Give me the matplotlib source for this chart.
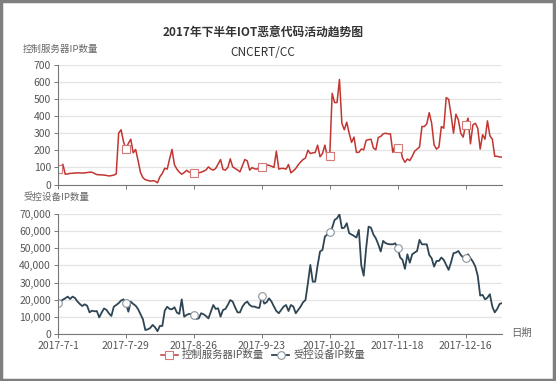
import numpy as np
import pandas as pd
import matplotlib
matplotlib.use('Agg')
import matplotlib.pyplot as plt
from matplotlib.ticker import StrMethodFormatter
from matplotlib.patches import Rectangle

plt.rcParams['font.family'] = ['Noto Sans CJK SC', 'DejaVu Sans']

## daily values, 2017-7-1 .. 2017-12-31
title = '2017年下半年IOT恶意代码活动趋势图'
subtitle = 'CNCERT/CC'
name_cc = '控制服务器IP数量'
name_bot = '受控设备IP数量'
start_day = '2017-07-01'

cc_ip = [90, 95, 118, 60, 62, 65, 66, 67, 68, 68, 67, 68, 70, 72,
         72, 65, 58, 57, 56, 55, 53, 50, 52, 55, 62, 300, 320, 250,
         210, 240, 265, 185, 205, 140, 70, 40, 28, 24, 20, 22, 20, 10,
         45, 65, 95, 90, 150, 205, 115, 90, 72, 60, 70, 83, 72, 75,
         70, 68, 68, 72, 78, 85, 103, 90, 84, 94, 120, 146, 88, 84,
         100, 150, 103, 94, 85, 74, 110, 146, 138, 84, 99, 92, 90, 100,
         103, 110, 115, 112, 107, 100, 195, 90, 94, 94, 90, 117, 68, 80,
         94, 115, 132, 146, 155, 200, 181, 185, 187, 230, 162, 181, 230, 162,
         168, 533, 479, 479, 614, 358, 320, 364, 300, 246, 277, 188, 188, 207,
         203, 258, 262, 265, 213, 203, 275, 281, 296, 300, 296, 296, 188, 232,
         213, 219, 155, 130, 149, 140, 165, 195, 207, 219, 339, 339, 355, 420,
         358, 232, 207, 219, 339, 329, 508, 498, 407, 300, 411, 378, 300, 277,
         349, 388, 238, 349, 358, 329, 207, 291, 265, 372, 285, 265, 165, 165,
         161, 160]

bot_ip = [17900, 19000, 20000, 20800, 21800, 20400, 21800, 21000, 19000, 17500, 16300, 17300, 16500, 12600,
          13600, 13200, 13400, 9700, 12500, 14900, 14000, 12000, 10500, 15900, 16900, 18000, 19500, 20200,
          17900, 13000, 18900, 17500, 16500, 14500, 11500, 8600, 2300, 2700, 3500, 5300, 3900, 1600,
          4700, 4700, 13600, 15900, 14600, 14400, 15600, 12500, 11700, 20200, 10100, 11100, 11700, 11500,
          11100, 8800, 9100, 12100, 11500, 10500, 9100, 13000, 16900, 14600, 15000, 10100, 14000, 14600,
          17000, 19800, 18900, 15500, 12600, 12600, 15900, 17900, 18900, 16900, 16000, 16000, 15400, 15200,
          22100, 17700, 18500, 20800, 18900, 16000, 13400, 12100, 14000, 16000, 16900, 13400, 16900, 16000,
          12100, 14000, 16000, 18500, 19800, 29600, 40300, 30500, 30500, 40000, 48100, 49000, 56800, 58000,
          59300, 62000, 66500, 67500, 69800, 61700, 62000, 64600, 58800, 58000, 57200, 56200, 60700, 40000,
          34000, 50000, 62600, 62000, 58000, 55800, 52300, 48100, 54300, 53000, 52500, 52300, 52300, 52900,
          50000, 44700, 43200, 38000, 46500, 41600, 46500, 47500, 48400, 54900, 52300, 52300, 52300, 46100,
          44200, 39300, 42600, 42600, 44600, 43200, 40300, 37400, 41800, 47100, 47500, 48400, 46100, 44600,
          44600, 46500, 44200, 42200, 39300, 34000, 22400, 22800, 20200, 21200, 23200, 16000, 12600, 14600,
          17500, 18000]

tick_labels = ['2017-7-1', '2017-7-29', '2017-8-26', '2017-9-23',
               '2017-10-21', '2017-11-18', '2017-12-16']

dates = pd.date_range(start_day, periods=len(cc_ip), freq='D')
tick_pos = pd.to_datetime(tick_labels)

red = '#c23531'
dark = '#2f4554'
axis_col = '#777777'
text_col = '#555555'
grid_col = '#e4e4e4'

fig = plt.figure(figsize=(5.56, 3.81), dpi=100)
ax1 = fig.add_axes([0.1043, 0.5157, 0.7986, 0.3144])
ax2 = fig.add_axes([0.1043, 0.1234, 0.7986, 0.3150])


def style_axis(ax):
    for s in ['top', 'right']:
        ax.spines[s].set_visible(False)
    ax.spines['left'].set_color(axis_col)
    ax.spines['bottom'].set_color(axis_col)
    ax.spines['left'].set_linewidth(0.8)
    ax.spines['bottom'].set_linewidth(0.8)
    ax.grid(axis='y', color=grid_col, linewidth=0.9)
    ax.set_axisbelow(True)
    ax.tick_params(axis='both', length=3, width=0.7, color=axis_col,
                   labelcolor=text_col, labelsize=7.5, pad=2)
    ax.set_xlim(dates[0], dates[-1])
    ax.set_xticks(tick_pos)


# top: control servers
l1, = ax1.plot(dates, cc_ip, color=red, lw=1.1, marker='s', markevery=28,
               markersize=5.5, markerfacecolor='white', markeredgecolor='#d47a78',
               markeredgewidth=0.8, label=name_cc)
style_axis(ax1)
ax1.set_ylim(0, 700)
ax1.set_yticks(np.arange(0, 701, 100))
ax1.set_xticklabels([])

# bottom: bots
l2, = ax2.plot(dates, bot_ip, color=dark, lw=1.3, marker='o', markevery=28,
               markersize=5.5, markerfacecolor='white', markeredgecolor='#8a949b',
               markeredgewidth=0.8, label=name_bot)
style_axis(ax2)
ax2.set_ylim(0, 70000)
ax2.set_yticks(np.arange(0, 70001, 10000))
ax2.yaxis.set_major_formatter(StrMethodFormatter('{x:,.0f}'))
ax2.set_xticklabels(tick_labels)

fig.text(0.473, 0.913, title, ha='center', va='center', fontsize=8.5,
         fontweight='bold', color='#333333')
fig.text(0.473, 0.861, subtitle, ha='center', va='center', fontsize=8.5,
         color='#333333')
fig.text(0.040, 0.871, name_cc, ha='left', va='center', fontsize=6.8, color='#666666')
fig.text(0.043, 0.483, name_bot, ha='left', va='center', fontsize=6.8, color='#666666')
fig.text(0.919, 0.126, '日期', ha='left', va='center', fontsize=7.5, color='#666666')

leg = fig.legend(handles=[l1, l2], loc='center', bbox_to_anchor=(0.473, 0.068),
                 ncol=2, frameon=False, fontsize=7.5, handlelength=1.6,
                 handletextpad=0.4, columnspacing=0.8, borderpad=0.1)
for t in leg.get_texts():
    t.set_color('#555555')

# outer grey border
fig.patches.append(Rectangle((0.002, 0.003), 0.995, 0.994, transform=fig.transFigure,
                             fill=False, edgecolor='#7f7f7f', linewidth=2.5))

fig.savefig('out.png', dpi=100)
